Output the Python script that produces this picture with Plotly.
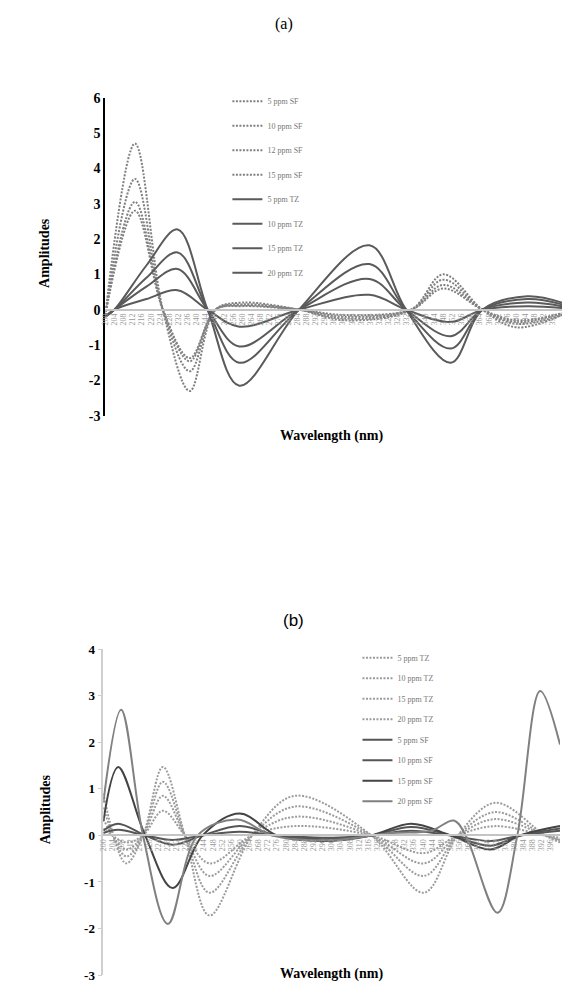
import plotly.graph_objects as go

# ---------------- data ----------------
# x tick labels (wavelength, nm)
TICK_WL = list(range(200, 401, 4))
TICK_TEXT = [str(v) for v in TICK_WL]
A_YTICKS = [-3, -2, -1, 0, 1, 2, 3, 4, 5, 6]
B_YTICKS = [-3, -2, -1, 0, 1, 2, 3, 4]

# Panel (a): SF (dotted) key points
A_SF_WL = [200, 213, 225.2, 237, 248.3, 260, 284.8, 305, 334, 348, 365.2, 380, 400]
A_SF_NAMES = ["5 ppm SF", "10 ppm SF", "12 ppm SF", "15 ppm SF"]
A_SF5 = [-0.15, 2.8, 0, -1.37, 0, 0.10, 0, -0.15, 0, 0.60, 0, -0.30, -0.10]
A_SF10 = [-0.15, 3.05, 0, -1.46, 0, 0.12, 0, -0.20, 0, 0.70, 0, -0.35, -0.10]
A_SF12 = [-0.15, 3.7, 0, -1.74, 0, 0.15, 0, -0.25, 0, 0.85, 0, -0.40, -0.15]
A_SF15 = [-0.15, 4.7, 0, -2.3, 0, 0.20, 0, -0.30, 0, 1.00, 0, -0.50, -0.15]

# Panel (a): TZ (solid) key points
A_TZ_WL = [200, 204, 218, 231.7, 244.8, 258.7, 284.8, 315.7, 331.7, 351.3, 365.2, 384.8, 400]
A_TZ_NAMES = ["5 ppm TZ", "10 ppm TZ", "15 ppm TZ", "20 ppm TZ"]
A_TZ5 = [-0.2, 0, 0.30, 0.55, 0, -0.48, 0, 0.42, 0, -0.35, 0, 0.10, 0.05]
A_TZ10 = [-0.2, 0, 0.65, 1.15, 0, -1.04, 0, 0.87, 0, -0.75, 0, 0.20, 0.10]
A_TZ15 = [-0.2, 0, 0.90, 1.62, 0, -1.50, 0, 1.29, 0, -1.10, 0, 0.30, 0.15]
A_TZ20 = [-0.2, 0, 1.25, 2.27, 0, -2.15, 0, 1.82, 0, -1.50, 0, 0.38, 0.20]

# Panel (b): TZ (dotted) key points
B_TZ_WL = [200, 210, 217.4, 226.1, 235.7, 246.5, 265.2, 283.9, 317.4, 340.4, 355.2, 371.7, 393.5, 400]
B_TZ_NAMES = ["5 ppm TZ", "10 ppm TZ", "15 ppm TZ", "20 ppm TZ"]
B_TZ5 = [0.15, -0.15, 0, 0.53, 0, -0.60, 0, 0.20, 0, -0.38, 0, 0.20, 0, -0.05]
B_TZ10 = [0.35, -0.30, 0, 0.85, 0, -0.87, 0, 0.40, 0, -0.60, 0, 0.35, 0, -0.10]
B_TZ15 = [0.60, -0.45, 0, 1.15, 0, -1.23, 0, 0.62, 0, -0.87, 0, 0.50, 0, -0.10]
B_TZ20 = [0.90, -0.60, 0, 1.47, 0, -1.72, 0, 0.85, 0, -1.23, 0, 0.70, 0, -0.15]

# Panel (b): SF (solid) key points
B_SF_WL = [200, 206.5, 218.3, 230.4, 243.5, 259.6, 276.1, 295.7, 317.4, 334.8, 352.2, 369.6, 382.6, 400]
B_SF_NAMES = ["5 ppm SF", "10 ppm SF", "15 ppm SF", "20 ppm SF"]
B_SF5 = [0.05, 0.12, 0, -0.10, 0, 0.08, 0, -0.05, 0, 0.10, 0, -0.12, 0, 0.10]
B_SF10 = [0.10, 0.25, 0, -0.20, 0, 0.20, 0, -0.08, 0, 0.18, 0, -0.22, 0, 0.15]
B_SF15 = [0.30, 1.47, 0, -1.13, 0, 0.47, 0, -0.12, 0, 0.25, 0, -0.30, 0, 0.20]
B_SF20_WL = [200, 207.8, 217.4, 228.3, 241.3, 258.7, 273.9, 300, 326.1, 343.5, 353.5, 358.7, 372.6, 381.3, 391.3, 400]
B_SF20 = [0.70, 2.70, 0, -1.90, 0, 0.34, 0, -0.10, 0.05, 0.10, 0.32, 0, -1.66, 0, 3.10, 1.95]

# ---------------- figure ----------------
W, H = 564, 991
SERIF = "Liberation Serif"
DOT = "2px,1.5px"

def px_x(p):
    return p / W

def px_y(p):
    return 1 - p / H

fig = go.Figure()

def add(xs, ys, name, color, dash, width, xa, ya, legend, group):
    fig.add_trace(go.Scatter(
        x=xs, y=ys, name=name, mode="lines",
        line=dict(color=color, dash=dash, width=width, shape="spline", smoothing=1.0),
        xaxis=xa, yaxis=ya, legend=legend, legendgroup=group,
    ))

a_sf = [A_SF5, A_SF10, A_SF12, A_SF15]
a_tz = [A_TZ5, A_TZ10, A_TZ15, A_TZ20]
for i, (n, v) in enumerate(zip(A_SF_NAMES, a_sf)):
    add(A_SF_WL, v, n, "#808080", DOT, 2, "x", "y", "legend", f"a{i}")
for i, (n, v) in enumerate(zip(A_TZ_NAMES, a_tz)):
    add(A_TZ_WL, v, n, "#5a5a5a", "solid", 2, "x", "y", "legend", f"a{i+4}")

b_tz = [B_TZ5, B_TZ10, B_TZ15, B_TZ20]
for i, (n, v) in enumerate(zip(B_TZ_NAMES, b_tz)):
    add(B_TZ_WL, v, n, "#9c9c9c", DOT, 2, "x2", "y2", "legend2", f"b{i}")
b_sf_cols = ["#555555", "#555555", "#444444", "#808080"]
b_sf = [B_SF5, B_SF10, B_SF15]
for i, (n, v) in enumerate(zip(B_SF_NAMES[:3], b_sf)):
    add(B_SF_WL, v, n, b_sf_cols[i], "solid", 2, "x2", "y2", "legend2", f"b{i+4}")
add(B_SF20_WL, B_SF20, B_SF_NAMES[3], b_sf_cols[3], "solid", 2, "x2", "y2", "legend2", "b7")

# axes geometry (paper)
a_x0, a_x1 = px_x(102), px_x(562)
a_yt, a_yb = px_y(92), px_y(415)
b_x0, b_x1 = px_x(100), px_x(560)
b_yt, b_yb = px_y(652), px_y(983)
A_YR = [-3, 6]
B_YR = [-3, 4]
a_zero = a_yb + (a_yt - a_yb) * (0 - A_YR[0]) / (A_YR[1] - A_YR[0])
b_zero = b_yb + (b_yt - b_yb) * (0 - B_YR[0]) / (B_YR[1] - B_YR[0])

xcommon = dict(range=[200, 400], tickmode="array", tickvals=TICK_WL, ticktext=TICK_TEXT,
               tickangle=-90, tickfont=dict(family=SERIF, size=8, color="#9a9a9a"),
               showgrid=False, zeroline=False, showline=True, linecolor="#c4c4c4",
               linewidth=1.5, ticks="", anchor="free", fixedrange=True)

fig.update_layout(
    width=W, height=H, margin=dict(l=0, r=0, t=0, b=0),
    paper_bgcolor="white", plot_bgcolor="white",
    xaxis=dict(domain=[a_x0, a_x1], position=a_zero, **xcommon),
    yaxis=dict(domain=[a_yb, a_yt], range=A_YR, anchor="x", tickmode="array",
               tickvals=A_YTICKS, ticktext=[str(v) for v in A_YTICKS],
               showgrid=False, zeroline=False, showline=True, linecolor="black", linewidth=2,
               ticks="", tickfont=dict(family=SERIF, size=14, color="black", weight="bold")),
    xaxis2=dict(domain=[b_x0, b_x1], position=b_zero, **xcommon),
    yaxis2=dict(domain=[b_yb, b_yt], range=B_YR, anchor="x2", tickmode="array",
                tickvals=B_YTICKS, ticktext=[str(v) for v in B_YTICKS],
                showgrid=False, zeroline=False, showline=True, linecolor="#cfcfcf", linewidth=1.5,
                ticks="outside", ticklen=4, tickcolor="#cfcfcf",
                tickfont=dict(family=SERIF, size=13, color="black", weight="bold")),
    legend=dict(x=px_x(225), y=px_y(81), xanchor="left", yanchor="top",
                font=dict(family=SERIF, size=8, color="#777"), bgcolor="rgba(0,0,0,0)",
                tracegroupgap=5.5, itemwidth=30),
    legend2=dict(x=px_x(356), y=px_y(646), xanchor="left", yanchor="top",
                 font=dict(family=SERIF, size=8, color="#777"), bgcolor="rgba(0,0,0,0)",
                 tracegroupgap=1.5, itemwidth=30),
    showlegend=True,
)

ann = [
    dict(text="(a)", x=px_x(282), y=px_y(17), font=dict(family=SERIF, size=16, color="black")),
    dict(text="(b)", x=px_x(292), y=px_y(623), font=dict(family="Liberation Sans", size=17, color="black")),
    dict(text="<b>Amplitudes</b>", x=px_x(40), y=px_y(250), textangle=-90,
         font=dict(family=SERIF, size=14, color="black")),
    dict(text="<b>Wavelength (nm)</b>", x=px_x(330), y=px_y(436),
         font=dict(family=SERIF, size=14, color="black")),
    dict(text="<b>Amplitudes</b>", x=px_x(42), y=px_y(815), textangle=-90,
         font=dict(family=SERIF, size=14, color="black")),
    dict(text="<b>Wavelength (nm)</b>", x=px_x(330), y=px_y(982),
         font=dict(family=SERIF, size=14, color="black")),
]
for a in ann:
    fig.add_annotation(xref="paper", yref="paper", showarrow=False, xanchor="center", yanchor="middle", **a)

fig.write_html("out.html")
